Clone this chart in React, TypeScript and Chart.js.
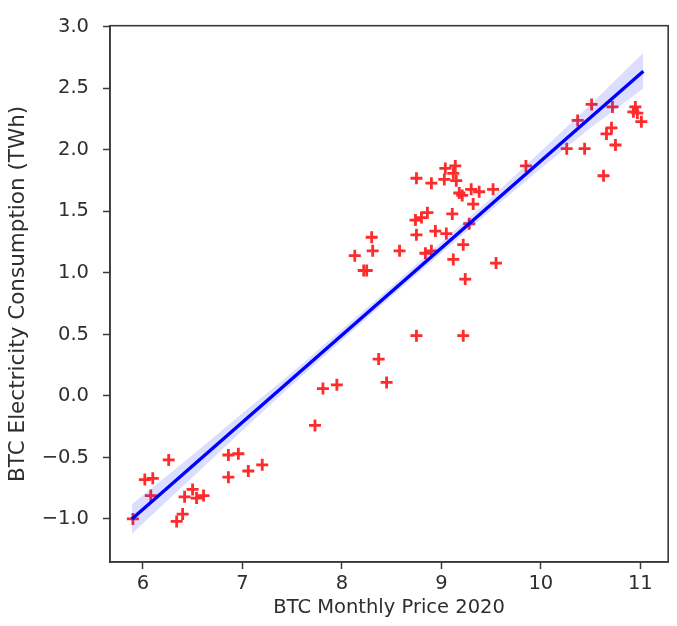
import React, { useEffect, useRef } from "react";
import { Chart, registerables } from "chart.js";

Chart.register(...registerables);

const priceX: number[] = [
  5.9, 6.02, 6.1, 6.08, 6.26, 6.34, 6.4, 6.42, 6.5, 6.54, 6.61, 6.86, 6.96, 6.86, 7.06, 7.2, 7.73, 7.81, 7.95, 8.37, 8.45,
  8.75, 8.9, 9.04, 9.14, 9.03, 9.12, 9.15, 9.18, 9.21, 9.3, 9.38, 9.52, 9.32, 8.74, 8.8, 8.86, 9.11, 8.75, 8.94, 9.05,
  9.28, 8.3, 8.31, 8.13, 8.22, 8.25, 8.58, 8.84, 8.9, 9.12, 9.22, 9.55, 9.24, 8.75, 9.22, 9.85,
  10.26, 10.44, 10.37, 10.51, 10.72, 10.93, 10.95, 10.97, 11.01, 10.71, 10.66, 10.75, 10.63,
];
const consumptionY: number[] = [
  -1.0, -0.68, -0.67, -0.81, -0.52, -1.02, -0.96, -0.82, -0.76, -0.83, -0.81, -0.48, -0.47, -0.66, -0.61, -0.56, -0.24, 0.06, 0.09, 0.3, 0.11,
  1.77, 1.73, 1.85, 1.87, 1.76, 1.81, 1.75, 1.65, 1.63, 1.68, 1.66, 1.68, 1.56, 1.43, 1.45, 1.49, 1.48, 1.31, 1.34, 1.32,
  1.4, 1.29, 1.18, 1.14, 1.02, 1.02, 1.18, 1.16, 1.18, 1.11, 1.23, 1.08, 0.95, 0.49, 0.49, 1.87,
  2.01, 2.01, 2.24, 2.37, 2.35, 2.31, 2.35, 2.3, 2.23, 2.18, 2.13, 2.04, 1.79,
];

const fitX: number[] = [5.89, 11.03];
const fitY: number[] = [-1.0, 2.64];

const bandX: number[] = [5.89, 6.5, 7, 7.5, 8, 8.5, 9, 9.5, 10, 10.5, 11.03];
const bandUpper: number[] = [-0.88, -0.48, -0.14, 0.19, 0.54, 0.89, 1.25, 1.61, 1.99, 2.37, 2.79];
const bandLower: number[] = [-1.12, -0.66, -0.28, 0.09, 0.45, 0.81, 1.16, 1.51, 1.85, 2.18, 2.5];

const xTicks: number[] = [6, 7, 8, 9, 10, 11];
const yTicks: number[] = [-1.0, -0.5, 0.0, 0.5, 1.0, 1.5, 2.0, 2.5, 3.0];

const xTitle = "BTC Monthly Price 2020";
const yTitle = "BTC Electricity Consumption (TWh)";

const frameColor = "#3a3a3a";
const textColor = "#2e2e2e";

const boxPlugin = {
  id: "boxFrame",
  afterDraw(chart: any) {
    const { ctx, chartArea } = chart;
    ctx.save();
    ctx.strokeStyle = frameColor;
    ctx.lineWidth = 1.6;
    ctx.strokeRect(chartArea.left, chartArea.top, chartArea.right - chartArea.left, chartArea.bottom - chartArea.top);
    ctx.restore();
  },
};

export default function App() {
  const ref = useRef<HTMLCanvasElement | null>(null);

  useEffect(() => {
    document.body.style.margin = "0";
    if (!ref.current) return;
    const chart = new Chart(ref.current, {
      type: "scatter",
      data: {
        datasets: [
          {
            label: "ci-upper",
            data: bandX.map((x, i) => ({ x, y: bandUpper[i] })),
            showLine: true,
            borderWidth: 0,
            borderColor: "rgba(0,0,0,0)",
            backgroundColor: "rgba(40,60,255,0.17)",
            pointRadius: 0,
            fill: "+1",
            order: 2,
          } as any,
          {
            label: "ci-lower",
            data: bandX.map((x, i) => ({ x, y: bandLower[i] })),
            showLine: true,
            borderWidth: 0,
            borderColor: "rgba(0,0,0,0)",
            backgroundColor: "rgba(40,60,255,0.17)",
            pointRadius: 0,
            fill: false,
            order: 2,
          } as any,
          {
            label: "fit",
            data: fitX.map((x, i) => ({ x, y: fitY[i] })),
            showLine: true,
            borderColor: "#0000ff",
            borderWidth: 3.4,
            pointRadius: 0,
            fill: false,
            order: 1,
          } as any,
          {
            label: "data",
            data: priceX.map((x, i) => ({ x, y: consumptionY[i] })),
            pointStyle: "cross",
            pointRadius: 6,
            pointBorderWidth: 2.8,
            borderColor: "#ff2a2a",
            backgroundColor: "#ff2a2a",
            order: 3,
          } as any,
        ],
      },
      options: {
        responsive: false,
        animation: false,
        layout: { padding: { top: 16, right: 7, left: 0, bottom: 0 } },
        plugins: {
          legend: { display: false },
          tooltip: { enabled: false },
        },
        scales: {
          x: {
            type: "linear",
            min: 5.67,
            max: 11.28,
            afterBuildTicks: (scale: any) => {
              scale.ticks = xTicks.map((v) => ({ value: v }));
            },
            afterFit: (scale: any) => {
              scale.height = 64;
            },
            grid: {
              display: true,
              drawOnChartArea: false,
              drawTicks: true,
              tickLength: 7,
              tickColor: frameColor,
              tickWidth: 1.5,
            },
            border: { display: true, color: frameColor, width: 1.6 },
            ticks: {
              color: textColor,
              font: { family: "DejaVu Sans", size: 19.5 },
              padding: 3,
              maxRotation: 0,
              callback: (v: any) => String(v),
            },
            title: {
              display: true,
              text: xTitle,
              color: textColor,
              font: { family: "DejaVu Sans", size: 19.5 },
              padding: { top: 0, bottom: 6 },
            },
          },
          y: {
            type: "linear",
            min: -1.35,
            max: 3.01,
            afterBuildTicks: (scale: any) => {
              scale.ticks = yTicks.map((v) => ({ value: v }));
            },
            afterFit: (scale: any) => {
              scale.width = 110;
            },
            grid: {
              display: true,
              drawOnChartArea: false,
              drawTicks: true,
              tickLength: 7,
              tickColor: frameColor,
              tickWidth: 1.5,
            },
            border: { display: true, color: frameColor, width: 1.6 },
            ticks: {
              color: textColor,
              font: { family: "DejaVu Sans", size: 19.5 },
              padding: 14,
              callback: (v: any) => {
                const n = Number(v);
                const s = Math.abs(n).toFixed(1);
                return n < 0 ? "\u2212" + s : s;
              },
            },
            title: {
              display: true,
              text: yTitle,
              color: textColor,
              font: { family: "DejaVu Sans", size: 21.5 },
              padding: { top: 6, bottom: 0 },
            },
          },
        },
      },
      plugins: [boxPlugin],
    });
    return () => chart.destroy();
  }, []);

  return (
    <div style={{ position: "fixed", left: 0, top: 0, width: 677, height: 626, background: "#fff" }}>
      <canvas ref={ref} width={677} height={626} style={{ width: 677, height: 626 }} />
    </div>
  );
}
